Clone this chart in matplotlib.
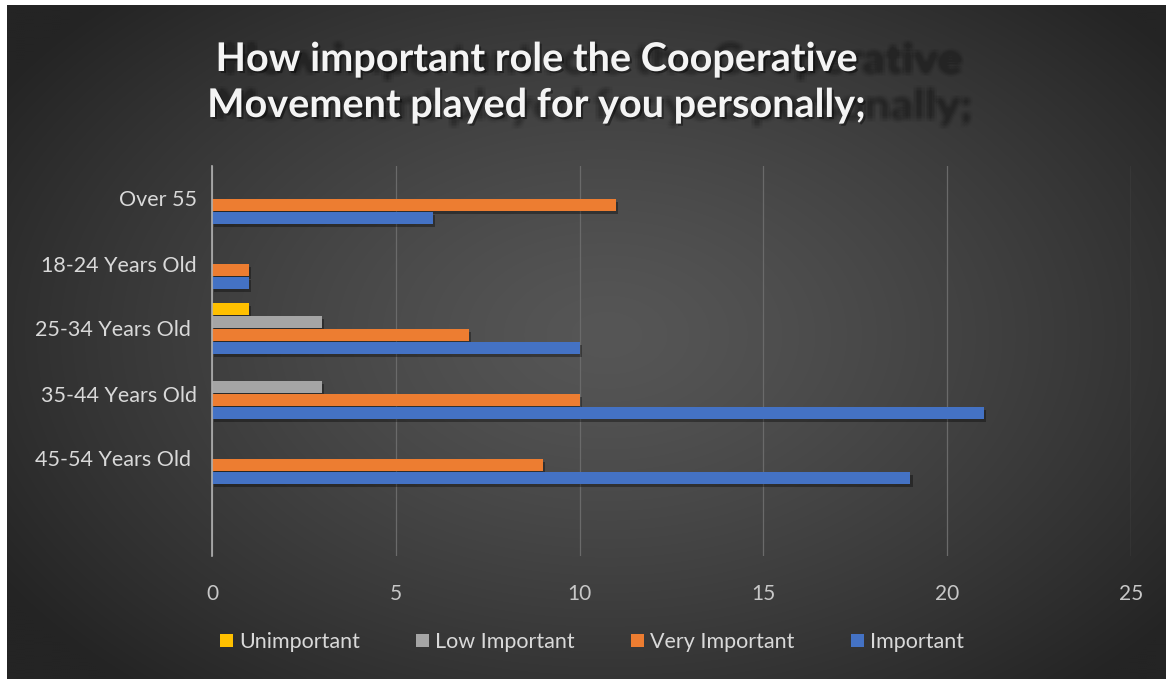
import numpy as np
import matplotlib
matplotlib.use("Agg")
import matplotlib.pyplot as plt
from matplotlib.patches import Patch, PathPatch
from matplotlib.textpath import TextPath
from matplotlib.font_manager import FontProperties
from matplotlib.transforms import Affine2D, IdentityTransform
import matplotlib.patheffects as pe

# survey answers per age group
categories = ["Over 55", "18-24 Years Old", "25-34 Years Old ", "35-44 Years Old", "45-54 Years Old ", ""]
series_names = ["Unimportant", "Low Important", "Very Important", "Important"]
unimportant = [0, 0, 1, 0, 0, 0]
low_important = [0, 0, 3, 3, 0, 0]
very_important = [11, 1, 7, 10, 9, 0]
important = [6, 1, 10, 21, 19, 0]
colors = ["#FFC000", "#A5A5A5", "#ED7D31", "#4472C4"]
x_ticks = [0, 5, 10, 15, 20, 25]
title_lines = ["How important role the Cooperative", "Movement played for you personally;"]

plt.rcParams['font.family'] = ['Lato', 'DejaVu Sans']

W, H = 1168, 679
fig = plt.figure(figsize=(W / 100, H / 100), dpi=100, facecolor="white")

# dark radial background panel
bg = fig.add_axes([7 / W, 0, (1166 - 7) / W, 674 / H])
bg.set_axis_off()
gx, gy = np.meshgrid(np.linspace(0, 1159, 580), np.linspace(0, 674, 340))
r = np.sqrt(((gx - 600) / 720) ** 2 + ((gy - 330) / 470) ** 2)
shade = 86 - 50 * np.clip(r, 0, 1) ** 1.3
bg.imshow(np.dstack([shade / 255] * 3), aspect="auto", extent=[0, 1, 0, 1], interpolation="bilinear")
bg.set_xlim(0, 1)
bg.set_ylim(0, 1)

# stretched, soft shadow behind the title
fp_title = FontProperties(family="Lato", weight="bold", size=28.5)
title_px = 28.5 * 100 / 72
offsets = [-3, -1.5, 0, 1.5, 3]
for i, line in enumerate(title_lines):
    tp = TextPath((0, 0), line, size=title_px, prop=fp_title)
    ext = tp.get_extents()
    base = H - (71 + i * 46)
    for dx in offsets:
        for dy in offsets:
            tr = Affine2D().translate(-ext.x0 - ext.width / 2, 0).scale(1.15, 1.03).translate(594 + dx, base - 2 + dy)
            fig.patches.append(PathPatch(tr.transform_path(tp), transform=IdentityTransform(),
                                         facecolor="#242424", edgecolor="none", alpha=0.026))

for i, line in enumerate(title_lines):
    fig.text(537 / W, 1 - (71 + i * 46) / H, line, ha="center", va="baseline",
             fontproperties=fp_title, color="#f4f4f4",
             path_effects=[pe.withSimplePatchShadow(offset=(1.5, -1.5), shadow_rgbFace="black", alpha=0.4)])

ax = fig.add_axes([212 / W, 1 - 556 / H, (1131 - 212) / W, (556 - 166) / H])
ax.patch.set_alpha(0)

y = np.arange(len(categories))
slot = 0.2
values = [unimportant, low_important, very_important, important]
for k, (vals, name, c) in enumerate(zip(values, series_names, colors)):
    offs = (k - 1.5) * slot
    ax.barh(y + offs, vals, height=0.185, color=c, label=name, linewidth=0, zorder=3,
            path_effects=[pe.SimplePatchShadow(offset=(1.5, -2), shadow_rgbFace="black", alpha=0.35), pe.Normal()])

ax.set_ylim(len(categories) - 0.5, -0.5)
ax.set_xlim(0, 25)
ax.set_xticks(x_ticks)
ax.set_yticks(y)
ax.set_yticklabels(categories)
ax.tick_params(axis="x", length=0, pad=20, labelsize=15, labelcolor="#c8c8c8")
ax.tick_params(axis="y", length=0, pad=11, labelsize=15.5, labelcolor="#d9d9d9")
ax.grid(axis="x", color="#6a6a6a", linewidth=0.9, zorder=0)
for s in ["top", "right", "bottom"]:
    ax.spines[s].set_visible(False)
ax.spines["left"].set_color("#b0b0b0")
ax.spines["left"].set_linewidth(1.2)
ax.spines["left"].set_zorder(4)

handles = [Patch(facecolor=c, edgecolor="none", label=n) for n, c in zip(series_names, colors)]
leg = fig.legend(handles=handles, loc="center", bbox_to_anchor=(592 / W, 1 - 642 / H), ncol=4,
                 frameon=False, fontsize=15.5, handlelength=0.6, handleheight=0.6,
                 handletextpad=0.3, columnspacing=2.6)
for t in leg.get_texts():
    t.set_color("#d9d9d9")

fig.savefig("out.png", dpi=100, facecolor="white")
